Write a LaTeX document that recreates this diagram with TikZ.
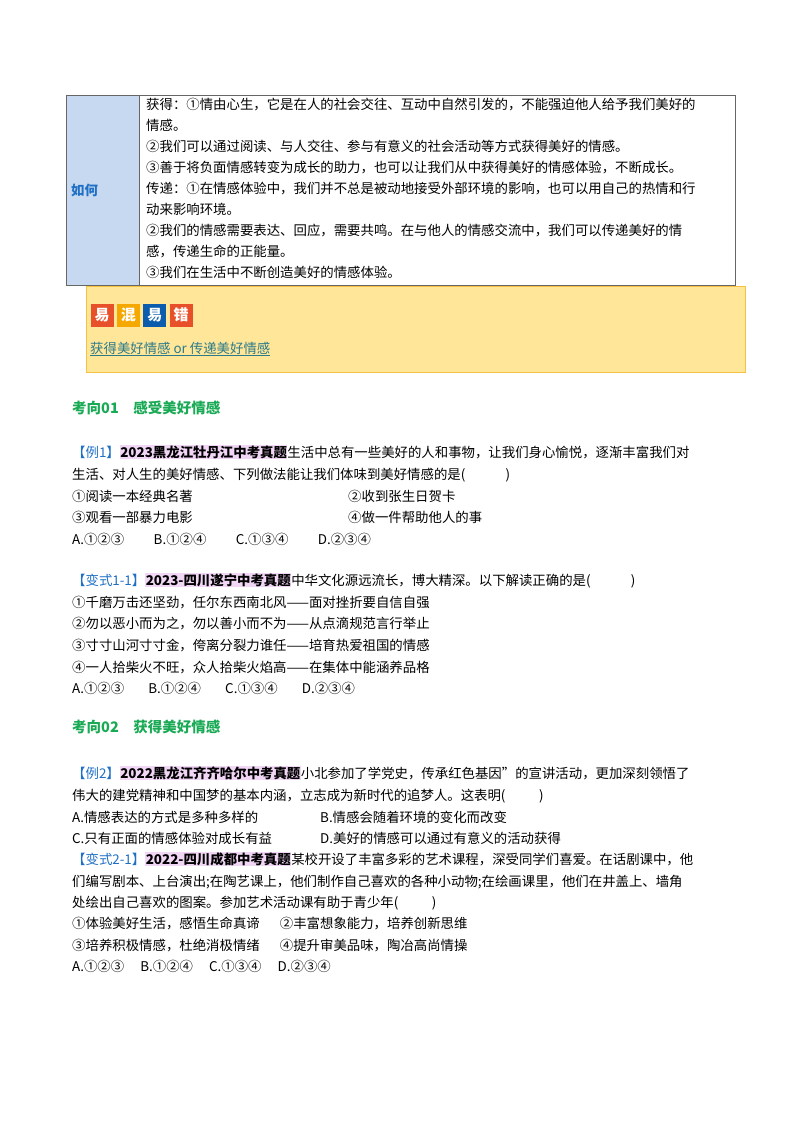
\documentclass[tikz,border=0pt]{standalone}
\usepackage{fontspec}
\setmainfont{Noto Sans CJK SC}
\usetikzlibrary{positioning}
\definecolor{cellblue}{HTML}{C6D9F0}
\definecolor{boxyellow}{HTML}{FFE699}
\definecolor{boxedge}{HTML}{F5C342}
\definecolor{headgreen}{HTML}{1AAA55}
\definecolor{tagblue}{HTML}{1F6FC5}
\definecolor{hlpink}{HTML}{F1D6F5}
\definecolor{linkteal}{HTML}{2B7A8A}
\definecolor{badgeA}{HTML}{E8502A}
\definecolor{badgeB}{HTML}{F5A800}
\definecolor{badgeC}{HTML}{0B5CAD}
\newcommand{\hlsrc}[1]{{\setlength{\fboxsep}{0.5pt}\colorbox{hlpink}{\bfseries #1}}}
\newcommand{\tagtxt}[1]{{\color{tagblue}#1}}
\tikzset{
  txt/.style={anchor=base west, inner sep=0pt, font=\fontsize{13.4}{16}\selectfont},
  head/.style={txt, font=\fontsize{14.5}{16}\selectfont\bfseries, text=headgreen},
  badge/.style={minimum width=23pt, minimum height=23pt, inner sep=0pt, text=white, font=\fontsize{15}{16}\selectfont\bfseries}
}
\begin{document}
\begin{tikzpicture}[x=1pt,y=-1pt]
  \useasboundingbox (0,0) rectangle (800,1132);

  % table
  \fill[cellblue] (66,95) rectangle (139,285);
  \draw[gray!80!black, line width=0.8pt] (66,95) rectangle (735,285);
  \draw[gray!80!black, line width=0.8pt] (139,95) -- (139,285);
  \node[txt, text=tagblue, font=\fontsize{13.4}{16}\selectfont\bfseries] (how) at (71,195) {如何};
  \edef\ly{109}
  \foreach \t in {获得：①情由心生，它是在人的社会交往、互动中自然引发的，不能强迫他人给予我们美好的,
                  情感。,
                  ②我们可以通过阅读、与人交往、参与有意义的社会活动等方式获得美好的情感。,
                  ③善于将负面情感转变为成长的助力，也可以让我们从中获得美好的情感体验，不断成长。,
                  传递：①在情感体验中，我们并不总是被动地接受外部环境的影响，也可以用自己的热情和行,
                  动来影响环境。,
                  ②我们的情感需要表达、回应，需要共鸣。在与他人的情感交流中，我们可以传递美好的情,
                  感，传递生命的正能量。,
                  ③我们在生活中不断创造美好的情感体验。}
  {
    \node[txt] at (146,\ly) {\t};
    \pgfmathparse{\ly + 21}
    \xdef\ly{\pgfmathresult}
  }

  % yellow box
  \draw[fill=boxyellow, draw=boxedge, line width=0.8pt] (86,286) rectangle (745,372);
  \node[badge, fill=badgeA] (b1) at (102,315) {易};
  \node[badge, fill=badgeB, right=3pt of b1] (b2) {混};
  \node[badge, fill=badgeC, right=3pt of b2] (b3) {易};
  \node[badge, fill=badgeA, right=3pt of b3] (b4) {错};
  \node[txt, text=linkteal] (link) at (90,353) {\underline{获得美好情感 or 传递美好情感}};

  % section 01
  \node[head] (sec1) at (72,413) {考向01\quad 感受美好情感};
  \node[txt] (ex1) at (72,457) {\tagtxt{【例1】}\hlsrc{2023黑龙江牡丹江中考真题}生活中总有一些美好的人和事物，让我们身心愉悦，逐渐丰富我们对};
  \node[txt] at (72,479) {生活、对人生的美好情感、下列做法能让我们体味到美好情感的是(\hspace{3em})};
  \node[txt] at (72,501) {①阅读一本经典名著};
  \node[txt] at (348,501) {②收到张生日贺卡};
  \node[txt] at (72,522) {③观看一部暴力电影};
  \node[txt] at (348,522) {④做一件帮助他人的事};
  \node[txt] at (72,544) {A.①②③\hspace{2.2em}B.①②④\hspace{2.2em}C.①③④\hspace{2.2em}D.②③④};

  \node[txt] (var1) at (72,585) {\tagtxt{【变式1-1】}\hlsrc{2023-四川遂宁中考真题}中华文化源远流长，博大精深。以下解读正确的是(\hspace{3em})};
  \node[txt] at (72,607) {①千磨万击还坚劲，任尔东西南北风——面对挫折要自信自强};
  \node[txt] at (72,628) {②勿以恶小而为之，勿以善小而不为——从点滴规范言行举止};
  \node[txt] at (72,650) {③寸寸山河寸寸金，侉离分裂力谁任——培育热爱祖国的情感};
  \node[txt] at (72,672) {④一人拾柴火不旺，众人拾柴火焰高——在集体中能涵养品格};
  \node[txt] at (72,693) {A.①②③\hspace{1.8em}B.①②④\hspace{1.8em}C.①③④\hspace{1.8em}D.②③④};

  % section 02
  \node[head] (sec2) at (72,732) {考向02\quad 获得美好情感};
  \node[txt] (ex2) at (72,778) {\tagtxt{【例2】}\hlsrc{2022黑龙江齐齐哈尔中考真题}小北参加了学党史，传承红色基因”的宣讲活动，更加深刻领悟了};
  \node[txt] at (72,800) {伟大的建党精神和中国梦的基本内涵，立志成为新时代的追梦人。这表明(\hspace{2.5em})};
  \node[txt] at (72,822) {A.情感表达的方式是多种多样的};
  \node[txt] at (320,822) {B.情感会随着环境的变化而改变};
  \node[txt] at (72,843) {C.只有正面的情感体验对成长有益};
  \node[txt] at (320,843) {D.美好的情感可以通过有意义的活动获得};
  \node[txt] (var2) at (72,864) {\tagtxt{【变式2-1】}\hlsrc{2022-四川成都中考真题}某校开设了丰富多彩的艺术课程，深受同学们喜爱。在话剧课中，他};
  \node[txt] at (72,886) {们编写剧本、上台演出;在陶艺课上，他们制作自己喜欢的各种小动物;在绘画课里，他们在井盖上、墙角};
  \node[txt] at (72,907) {处绘出自己喜欢的图案。参加艺术活动课有助于青少年(\hspace{2.5em})};
  \node[txt] at (72,928) {①体验美好生活，感悟生命真谛\hspace{1.5em}②丰富想象能力，培养创新思维};
  \node[txt] at (72,950) {③培养积极情感，杜绝消极情绪\hspace{1.5em}④提升审美品味，陶冶高尚情操};
  \node[txt] at (72,971) {A.①②③\hspace{1.2em}B.①②④\hspace{1.2em}C.①③④\hspace{1.2em}D.②③④};
\end{tikzpicture}
\end{document}
